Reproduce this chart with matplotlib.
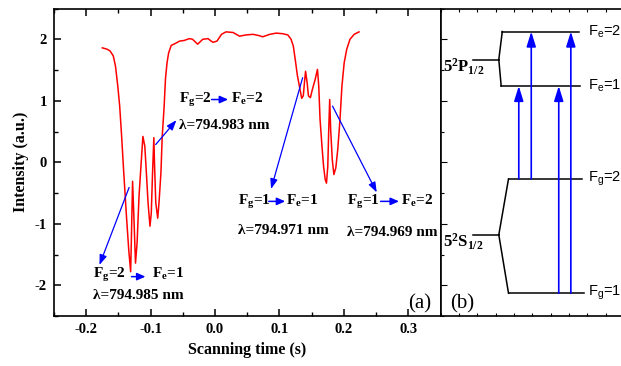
import matplotlib
matplotlib.use("Agg")
import matplotlib.pyplot as plt

plt.rcParams.update({
    "font.family": "Liberation Serif",
    "font.weight": "bold",
    "mathtext.fontset": "custom",
    "mathtext.bf": "Liberation Serif:bold",
    "mathtext.rm": "Liberation Serif:bold",
    "mathtext.sf": "Liberation Sans:normal",
    "axes.linewidth": 1.2,
})

# scanning time (s) and transmitted intensity (a.u.)
SCAN_T = [-0.175, -0.168, -0.163, -0.158, -0.1545, -0.151, -0.148, -0.145, -0.142,
          -0.1375, -0.134, -0.131, -0.130, -0.128, -0.126, -0.1235, -0.121, -0.118,
          -0.114, -0.112, -0.109, -0.106, -0.104, -0.101, -0.099, -0.097, -0.095,
          -0.094, -0.092, -0.089, -0.087, -0.084, -0.082, -0.079, -0.077, -0.0745,
          -0.072, -0.068, -0.062, -0.055, -0.048, -0.040, -0.035, -0.030, -0.027,
          -0.023, -0.019, -0.011, -0.006, -0.003, 0.003, 0.010, 0.017, 0.028, 0.038,
          0.048, 0.059, 0.068, 0.074, 0.085, 0.095, 0.105, 0.113, 0.118, 0.1215,
          0.1245, 0.128, 0.132, 0.1345, 0.137, 0.139, 0.1405, 0.143, 0.145, 0.148,
          0.151, 0.1555, 0.159, 0.161, 0.163, 0.166, 0.1685, 0.171, 0.173, 0.175,
          0.1765, 0.178, 0.1795, 0.182, 0.1845, 0.1875, 0.1905, 0.194, 0.197,
          0.2005, 0.2045, 0.2095, 0.216, 0.2235]
INTENSITY = [1.86, 1.84, 1.81, 1.73, 1.56, 1.24, 0.91, 0.42, -0.12,
             -0.88, -1.42, -1.78, -1.31, -0.31, -0.88, -1.64, -1.31, -0.55,
             0.10, 0.42, 0.26, -0.28, -0.66, -1.04, -0.83, -0.17, 0.40,
             -0.01, -0.66, -0.91, -0.66, -0.17, 0.42, 0.91, 1.35, 1.62,
             1.78, 1.90, 1.93, 1.97, 1.98, 2.01, 2.00, 1.95, 1.92,
             1.96, 2.00, 2.01, 1.97, 1.95, 1.97, 2.08, 2.12, 2.11, 2.05,
             2.07, 2.08, 2.06, 2.04, 2.08, 2.10, 2.09, 2.07, 2.00, 1.89,
             1.67, 1.40, 1.18, 1.04, 1.08, 1.32, 1.48, 1.29, 1.08, 1.05,
             1.18, 1.35, 1.51, 1.24, 0.70, 0.26, -0.07, -0.28, -0.34, -0.07,
             0.53, 1.02, 0.53, 0.04, -0.20, -0.09, 0.21, 0.70, 1.24,
             1.62, 1.84, 2.00, 2.08, 2.12]

# transition labels: (Fg text, Fe text, wavelength text)
TRANS_FG = [r"$\mathbf{F_g}$=2", r"$\mathbf{F_g}$=2", r"$\mathbf{F_g}$=1", r"$\mathbf{F_g}$=1"]
TRANS_FE = [r"$\mathbf{F_e}$=1", r"$\mathbf{F_e}$=2", r"$\mathbf{F_e}$=1", r"$\mathbf{F_e}$=2"]
TRANS_WL = ["λ=794.985 nm", "λ=794.983 nm", "λ=794.971 nm", "λ=794.969 nm"]
# label layout (data coords of panel a)
LBL_X = [-0.1896, -0.0565, 0.0353, 0.2046]
LBL_FE_X = [-0.0978, 0.024, 0.110, 0.289]
LBL_Y = [-1.886, 0.957, -0.69, -0.69]
WL_Y = [-2.228, 0.544, -1.163, -1.207]
SMALL_ARR = [(-0.1297, -0.108, -1.86), (-0.0054, 0.0204, 1.02),
             (0.0833, 0.109, -0.636), (0.257, 0.2856, -0.636)]
POINTER_FROM = [(-0.1334, -0.41), (-0.0921, 0.288), (0.136, 1.375), (0.1824, 0.913)]
POINTER_TO = [(-0.1794, -1.67), (-0.060, 0.684), (0.087, -0.434), (0.251, -0.49)]

# panel b: hyperfine levels (in panel-a intensity units for height)
LEVEL_NAMES = [r"$\mathsf{F_e}$=2", r"$\mathsf{F_e}$=1", r"$\mathsf{F_g}$=2", r"$\mathsf{F_g}$=1"]
LEVEL_Y = [2.125, 1.24, -0.27, -2.13]
LEVEL_X0 = [3.37, 3.31, 3.71, 3.71]
LEVEL_X1 = [7.58, 7.62, 7.73, 7.80]
TERM_NAMES = [r"$\mathbf{5^2P_{1/2}}$", r"$\mathbf{5^2S_{1/2}}$"]
TERM_Y = [1.67, -1.18]
# excitation arrows: x, lower level index, upper level index
ARROW_X = [4.27, 4.95, 6.45, 7.11]
ARROW_LO = [2, 2, 3, 3]
ARROW_HI = [1, 0, 1, 0]

BLUE = "#0000ff"

fig = plt.figure(figsize=(6.21, 3.66), dpi=100)
ax = fig.add_axes([54 / 621, 50 / 366, 386.5 / 621, 307.5 / 366])
bx = fig.add_axes([440.5 / 621, 50 / 366, 220 / 621, 307.5 / 366])

ax.plot(SCAN_T, INTENSITY, color="red", lw=1.1)
ax.set_xlim(-0.25, 0.35)
ax.set_ylim(-2.5, 2.5)
ax.set_xticks([-0.2, -0.1, 0.0, 0.1, 0.2, 0.3])
ax.set_xticks([-0.25, -0.15, -0.05, 0.05, 0.15, 0.25, 0.35], minor=True)
ax.set_yticks([-2, -1, 0, 1, 2])
ax.set_yticks([-2.5, -1.5, -0.5, 0.5, 1.5, 2.5], minor=True)
ax.set_xticklabels(["-0.2", "-0.1", "0.0", "0.1", "0.2", "0.3"])
ax.set_yticklabels(["-2", "-1", "0", "1", "2"])
ax.tick_params(which="major", direction="in", length=5, width=1.1, labelsize=10.5, pad=5)
ax.tick_params(which="minor", direction="in", length=3, width=1.0)
ax.tick_params(which="both", top=True)
ax.set_xlabel("Scanning time (s)", fontsize=11.5, fontweight="bold", labelpad=4)
ax.set_ylabel("Intensity (a.u.)", fontsize=11.5, fontweight="bold", labelpad=4)

for i in range(4):
    ax.text(LBL_X[i], LBL_Y[i], TRANS_FG[i], fontsize=11, fontweight="bold", va="baseline")
    ax.text(LBL_FE_X[i], LBL_Y[i], TRANS_FE[i], fontsize=11, fontweight="bold", va="baseline")
    ax.text(LBL_X[i], WL_Y[i], TRANS_WL[i], fontsize=11, fontweight="bold", va="baseline")
    x0, x1, y = SMALL_ARR[i]
    ax.annotate("", xy=(x1, y), xytext=(x0, y),
                arrowprops=dict(arrowstyle="-|>,head_length=0.5,head_width=0.22",
                                color=BLUE, lw=1.1, mutation_scale=10,
                                shrinkA=0, shrinkB=0))
    ax.annotate("", xy=POINTER_TO[i], xytext=POINTER_FROM[i],
                arrowprops=dict(arrowstyle="-|>,head_length=0.6,head_width=0.22",
                                color=BLUE, lw=0.9, mutation_scale=10,
                                shrinkA=0, shrinkB=0))
ax.text(0.335, -2.37, "(a)", fontsize=15, fontweight="normal", ha="right", va="baseline")

# panel b: energy level scheme
bx.set_xlim(0, 12)
bx.set_ylim(-2.5, 2.5)
bx.set_xticks(range(0, 13))
bx.set_yticks([-2, -1, 0, 1, 2])
bx.set_yticks([-2.5, -1.5, -0.5, 0.5, 1.5, 2.5], minor=True)
bx.tick_params(which="both", direction="in", top=True, labelleft=False,
               labelbottom=False, length=2.5, width=0.8)
bx.tick_params(axis="y", which="major", length=4)

for name, y, x0, x1 in zip(LEVEL_NAMES, LEVEL_Y, LEVEL_X0, LEVEL_X1):
    bx.plot([x0, x1], [y, y], color="black", lw=1.1)
    bx.text(8.07, y, name, fontsize=10.5, fontweight="normal", family="Liberation Sans",
            va="center", ha="left")

# brackets joining each term to its hyperfine pair
for k, (ty, pair) in enumerate(zip(TERM_Y, [(0, 1), (2, 3)])):
    apex = 3.18
    bx.plot([1.76, apex], [ty, ty], color="black", lw=1.1)
    for j in pair:
        bx.plot([apex, LEVEL_X0[j]], [ty, LEVEL_Y[j]], color="black", lw=1.1)
    bx.text(0.16, ty - 0.12, TERM_NAMES[k], fontsize=12, va="center", ha="left")

for x, lo, hi in zip(ARROW_X, ARROW_LO, ARROW_HI):
    bx.annotate("", xy=(x, LEVEL_Y[hi]), xytext=(x, LEVEL_Y[lo]),
                arrowprops=dict(arrowstyle="-|>,head_length=0.9,head_width=0.28",
                                color=BLUE, lw=1.2, mutation_scale=10,
                                shrinkA=0, shrinkB=0))
bx.text(0.5, -2.37, "(b)", fontsize=15, fontweight="normal", ha="left", va="baseline")

fig.savefig("out.png", dpi=100)
